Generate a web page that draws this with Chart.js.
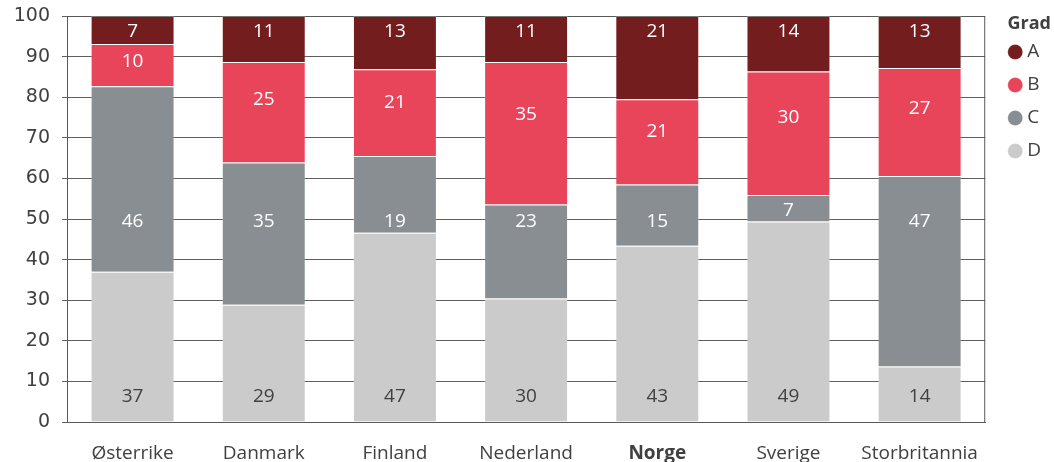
<!DOCTYPE html>
<html>
<head>
<meta charset="utf-8">
<script src="https://cdn.jsdelivr.net/npm/chart.js@4"></script>
<style>
  html, body { margin: 0; padding: 0; background: #fff; }
  #wrap { width: 1054px; height: 462px; }
</style>
</head>
<body>
<div id="wrap"><canvas id="grafico"></canvas></div>
<script>
const land = ["Østerrike", "Danmark", "Finland", "Nederland", "Norge", "Sverige", "Storbritannia"];
// andel (%) per grad, lest av figuren
const gradD = [37.0, 28.9, 46.6, 30.4, 43.4, 49.4, 13.7];
const gradC = [45.7, 35.0, 18.9, 23.2, 15.1, 6.5, 46.9];
const gradB = [10.4, 24.8, 21.4, 35.1, 21.0, 30.4, 26.6];
const gradA = [6.9, 11.3, 13.1, 11.3, 20.5, 13.7, 12.8];
const yTicks = [0, 10, 20, 30, 40, 50, 60, 70, 80, 90, 100];

const farger = { A: "#741d1e", B: "#e8455b", C: "#888e91", D: "#cbcbcb" };
const tekst = "#404040";

// tall inne i søylene
const segmentTall = {
    id: "segmentTall",
    afterDatasetsDraw(chart) {
        const ctx = chart.ctx;
        const y = chart.scales.y;
        ctx.save();
        ctx.font = "19px 'Open Sans'";
        ctx.textAlign = "center";
        ctx.textBaseline = "middle";
        chart.data.datasets.forEach((ds, di) => {
            chart.getDatasetMeta(di).data.forEach((bar, i) => {
                const topp = Math.min(bar.y, bar.base);
                const bunn = Math.max(bar.y, bar.base);
                let py;
                if (ds.label === "A") py = y.getPixelForValue(96.8);
                else if (ds.label === "B") py = topp + (bunn - topp) * 0.35;
                else if (ds.label === "C") py = (bunn - topp) > 40 ? y.getPixelForValue(50) : (topp + bunn) / 2;
                else py = y.getPixelForValue(6.8);
                ctx.fillStyle = ds.label === "D" ? tekst : "#ffffff";
                // 'middle' ligger litt høyt for sifrene
                ctx.fillText(Math.round(ds.data[i]), bar.x, py + 2.5);
            });
        });
        ctx.restore();
    }
};

// ramme rundt plottet (topp og høyre)
const ramme = {
    id: "ramme",
    beforeDatasetsDraw(chart) {
        const { ctx, chartArea: a } = chart;
        ctx.save();
        ctx.strokeStyle = "#595959";
        ctx.lineWidth = 1;
        ctx.strokeRect(a.left + 0.5, a.top + 0.5, a.right - a.left - 1, a.bottom - a.top);
        ctx.restore();
    }
};

Chart.defaults.font.family = "'Open Sans'";
Chart.defaults.color = tekst;

const serie = (label, data) => ({
    label: label,
    data: data,
    backgroundColor: farger[label],
    borderColor: "rgba(255,255,255,0.2)",
    borderWidth: 1,
    barPercentage: 0.64,
    categoryPercentage: 1
});

new Chart(document.getElementById("grafico"), {
    type: "bar",
    data: {
        labels: land,
        datasets: [serie("D", gradD), serie("C", gradC), serie("B", gradB), serie("A", gradA)]
    },
    options: {
        responsive: true,
        maintainAspectRatio: false,
        animation: false,
        layout: { padding: { top: 16, right: 3, bottom: 0, left: 0 } },
        plugins: {
            tooltip: { enabled: false },
            legend: {
                position: "right",
                align: "start",
                reverse: true,
                title: {
                    display: true,
                    text: "Grad",
                    position: "end",
                    color: tekst,
                    font: { size: 18, weight: "bold", lineHeight: 1 },
                    padding: { top: -1, bottom: -4.5 }
                },
                labels: {
                    usePointStyle: true,
                    pointStyle: "circle",
                    boxWidth: 5,
                    boxHeight: 10.6,
                    padding: 14,
                    color: tekst,
                    font: { size: 19 }
                }
            }
        },
        scales: {
            x: {
                stacked: true,
                grid: { display: false },
                border: { display: true, color: "#595959" },
                ticks: {
                    color: tekst,
                    padding: 12,
                    font: c => ({ size: 19, weight: land[c.index] === "Norge" ? "bold" : "normal" })
                },
                afterFit(s) {
                    s.height = 40;
                    s.paddingLeft = 0;
                    s.paddingRight = 0;
                }
            },
            y: {
                stacked: true,
                min: 0,
                max: 100,
                afterBuildTicks(s) { s.ticks = yTicks.map(v => ({ value: v })); },
                grid: { color: "#5f5f5f", tickLength: 5 },
                border: { display: true, color: "#595959" },
                ticks: { color: tekst, padding: 12, font: { family: "'DejaVu Sans'", size: 19 } },
                afterFit(s) {
                    s.width = 67;
                    s.paddingTop = 0;
                    s.paddingBottom = 0;
                }
            },
            gap: {
                type: "linear",
                position: "right",
                grid: { display: false },
                border: { display: false },
                ticks: { display: false },
                afterFit(s) {
                    s.width = 13.5;
                    s.paddingTop = 0;
                    s.paddingBottom = 0;
                }
            }
        }
    },
    plugins: [ramme, segmentTall]
});
</script>
</body>
</html>
